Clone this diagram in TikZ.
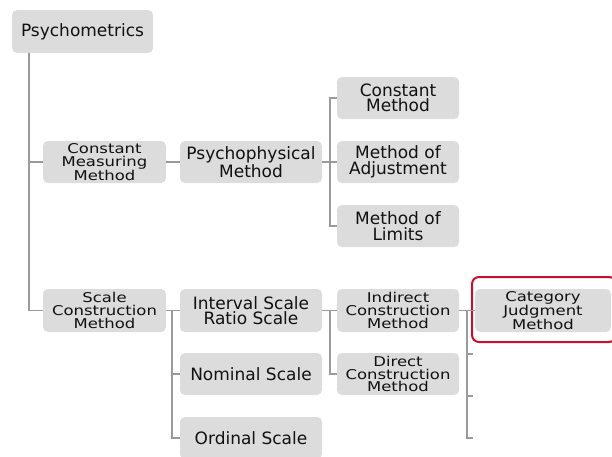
\documentclass[tikz,border=0pt]{standalone}
\usepackage{fontspec}
\setmainfont{DejaVu Sans}
\newfontfamily\bigfam{DejaVu Sans}
\newfontfamily\smallfam[FakeStretch=1.22]{DejaVu Sans}
\definecolor{boxfill}{HTML}{DCDCDC}
\definecolor{linegray}{HTML}{9A9A9A}
\definecolor{hired}{HTML}{C8102E}
\definecolor{txt}{HTML}{111111}
\begin{document}
\begin{tikzpicture}[x=1pt,y=-1pt,
  box/.style={fill=boxfill,rounded corners=5pt,inner sep=0pt,align=center,text=txt,minimum height=42pt},
  bigbox/.style={box,font=\bigfam\fontsize{17}{15.5}\selectfont},
  smallbox/.style={box,font=\smallfam\fontsize{13.5}{12.6}\selectfont},
  conn/.style={draw=linegray,line width=1.5pt},
  hl/.style={draw=hired,line width=2pt,rounded corners=7pt}]
\useasboundingbox (0,0) rectangle (612,456);
% nodes
\node[bigbox,minimum width=141pt,minimum height=43pt] (psy) at (82.5,31.5) {Psychometrics};
\node[smallbox,minimum width=123pt] (cmm) at (104.5,162) {Constant\\Measuring\\Method};
\node[bigbox,minimum width=142pt] (pm) at (251,162) {Psychophysical\\Method};
\node[bigbox,minimum width=122pt] (cm) at (398,98) {Constant\\Method};
\node[bigbox,minimum width=122pt] (moa) at (398,162) {Method of\\Adjustment};
\node[bigbox,minimum width=122pt] (mol) at (398,226) {Method of\\Limits};
\node[smallbox,minimum width=123pt,minimum height=43pt] (scm) at (104.5,310.5) {Scale\\Construction\\Method};
\node[bigbox,minimum width=142pt,minimum height=43pt] (isr) at (251,310.5) {Interval Scale\\Ratio Scale};
\node[bigbox,minimum width=142pt] (ns) at (251,374) {Nominal Scale};
\node[bigbox,minimum width=142pt] (os) at (251,438) {Ordinal Scale};
\node[smallbox,minimum width=122pt,minimum height=43pt] (icm) at (398,310.5) {Indirect\\Construction\\Method};
\node[smallbox,minimum width=122pt] (dcm) at (398,374) {Direct\\Construction\\Method};
\node[smallbox,minimum width=136pt,minimum height=43pt] (cjm) at (543,310.5) {Category\\Judgment\\Method};
\draw[hl] (472,277) rectangle (616,342);
% connector coordinates
\coordinate (t0) at (29,0);
\coordinate (t1) at (330,0);
\coordinate (t2) at (172,0);
\coordinate (t3) at (467,0);
\coordinate (s1) at (473,354);
\coordinate (s2) at (473,396);
\coordinate (s3) at (473,438);
% connectors
\draw[conn] (psy.south -| t0) |- (scm.west);
\draw[conn] (t0 |- cmm) -- (cmm.west);
\draw[conn] (cmm.east) -- (pm.west);
\draw[conn] (cm.west) -| (t1 |- mol) -- (mol.west);
\draw[conn] (pm.east) -- (moa.west);
\draw[conn] (scm.east) -- (isr.west);
\draw[conn] (scm.east -| t2) |- (os.west);
\draw[conn] (t2 |- ns) -- (ns.west);
\draw[conn] (isr.east) -- (icm.west);
\draw[conn] (isr.east -| t1) |- (dcm.west);
\draw[conn] (icm.east) -- (cjm.west);
\draw[conn] (icm.east -| t3) |- (s3);
\draw[conn] (t3 |- s1) -- (s1);
\draw[conn] (t3 |- s2) -- (s2);
\end{tikzpicture}
\end{document}
